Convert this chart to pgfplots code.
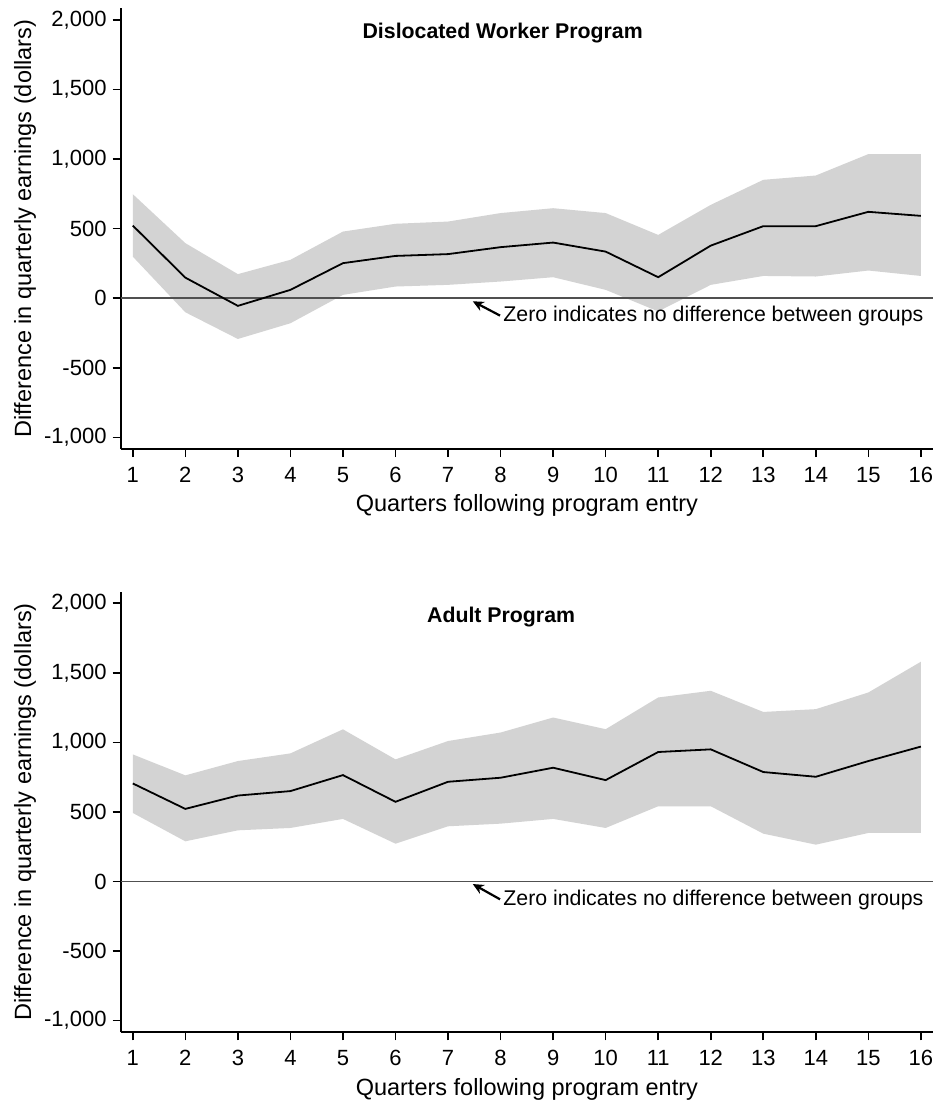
\documentclass[border=0pt]{standalone}
\usepackage{fontspec}
\setmainfont{Liberation Sans}
\usepackage{pgfplots}
\usepackage{pgfplotstable}
\pgfplotsset{compat=1.18}
\usepgfplotslibrary{fillbetween}
\usetikzlibrary{arrows.meta}
\definecolor{band}{RGB}{211,211,211}
\definecolor{zeroline}{RGB}{80,80,80}

\pgfplotstableread{
q mid lo hi
1 522 299 748
2 148 -101 396
3 -55 -293 173
4 60 -180 276
5 252 24 479
6 304 84 535
7 317 96 551
8 367 120 612
9 400 151 647
10 335 60 612
11 151 -95 455
12 378 96 671
13 518 160 851
14 518 156 882
15 621 199 1036
16 592 160 1036
}\dw

\pgfplotstableread{
q mid lo hi
1 705 493 914
2 522 289 763
3 618 368 866
4 650 385 921
5 765 450 1094
6 573 272 878
7 717 397 1010
8 746 416 1071
9 818 450 1179
10 729 385 1095
11 931 541 1323
12 950 541 1371
13 787 344 1219
14 753 265 1239
15 866 349 1359
16 970 349 1580
}\ad

\pgfplotsset{
  panel/.style={
    scale only axis, width=812.3pt, height=440.7pt,
    xmin=0.77, xmax=16.23, ymin=-1084, ymax=2084,
    axis lines=left, axis line style={-, line width=1.8pt, black},
    tick align=outside, xtick={1,...,16}, ytick={-1000,-500,...,2000},
    major tick length=8pt, tick style={black, line width=1.6pt},
    /pgf/number format/1000 sep={,},
    /pgf/number format/assume math mode=true,
    tick label style={font=\fontsize{22}{24}\selectfont},
    yticklabel style={inner sep=2pt, xshift=-4pt},
    xticklabel style={anchor=north, text height=16pt, text depth=0pt, inner sep=0pt, yshift=-9pt},
    label style={font=\fontsize{23.5}{26}\selectfont},
    xlabel={Quarters following program entry},
    ylabel={Difference in quarterly earnings (dollars)},
    xlabel style={at={(axis description cs:0.5,-0.129)}, anchor=center},
    ylabel style={at={(axis description cs:-0.1178,0.5)}, anchor=center},
  }
}

\begin{document}
\begin{tikzpicture}
\path (0pt,0pt) rectangle (942pt,-1104pt);

\begin{axis}[panel, at={(120.7pt,-449pt)}, anchor=south west]
  \addplot[name path=hiA, draw=none] table[x=q,y=hi]{\dw};
  \addplot[name path=loA, draw=none] table[x=q,y=lo]{\dw};
  \addplot[band, draw=none] fill between[of=hiA and loA];
  \addplot[zeroline, line width=1.9pt, no marks] coordinates {(0.77,0) (16.23,0)};
  \addplot[black, line width=1.8pt, no marks] table[x=q,y=mid]{\dw};
  \node[font=\bfseries\fontsize{21.3}{24}\selectfont] at (axis cs:8.04,1904) {Dislocated Worker Program};
  \draw[black, line width=2.2pt, -{Stealth[length=11pt,width=10pt]}] (axis cs:7.99,-125) -- (axis cs:7.47,-22);
  \node[anchor=west, inner sep=0pt, font=\fontsize{21.3}{24}\selectfont] at (axis cs:8.05,-127) {Zero indicates no difference between groups};
\end{axis}

\begin{axis}[panel, at={(120.7pt,-1032.3pt)}, anchor=south west]
  \addplot[name path=hiB, draw=none] table[x=q,y=hi]{\ad};
  \addplot[name path=loB, draw=none] table[x=q,y=lo]{\ad};
  \addplot[band, draw=none] fill between[of=hiB and loB];
  \addplot[zeroline, line width=1.9pt, no marks] coordinates {(0.77,0) (16.23,0)};
  \addplot[black, line width=1.8pt, no marks] table[x=q,y=mid]{\ad};
  \node[font=\bfseries\fontsize{21.3}{24}\selectfont] at (axis cs:8.01,1899) {Adult Program};
  \draw[black, line width=2.2pt, -{Stealth[length=11pt,width=10pt]}] (axis cs:7.99,-128) -- (axis cs:7.47,-18);
  \node[anchor=west, inner sep=0pt, font=\fontsize{21.3}{24}\selectfont] at (axis cs:8.05,-132) {Zero indicates no difference between groups};
\end{axis}
\end{tikzpicture}
\end{document}
